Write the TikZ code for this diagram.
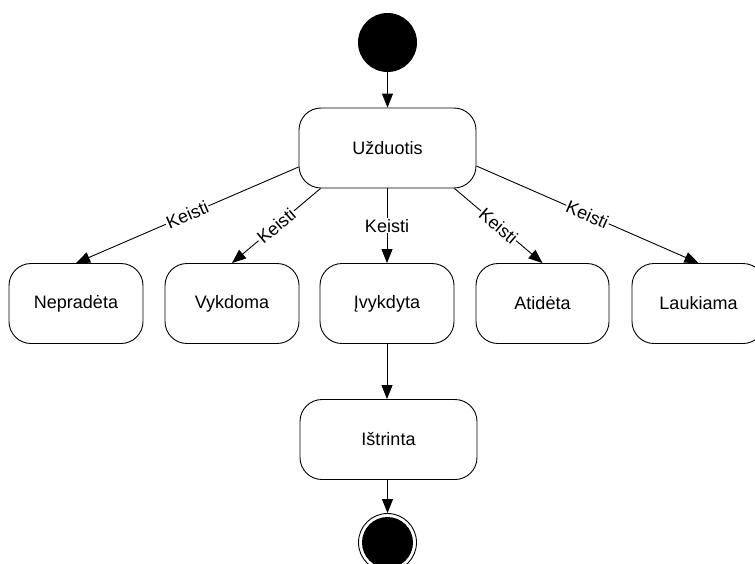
\documentclass[tikz,border=0pt]{standalone}
\usepackage{fontspec}
\setmainfont{Liberation Sans}
\usetikzlibrary{arrows.meta}
\begin{document}
\begin{tikzpicture}[x=1pt,y=-1pt,
  state/.style={draw, rounded corners=22pt, minimum height=80pt, minimum width=134pt,
    font=\fontsize{18}{22}\selectfont, line width=0.9pt},
  flow/.style={-{Triangle[length=14pt,width=11pt]}, line width=0.9pt},
  lbl/.style={fill=white, inner sep=1pt, font=\fontsize{18}{22}\selectfont}]
\useasboundingbox (0,0) rectangle (755,563);

% initial and final pseudo-states
\node[circle, fill=black, minimum size=59pt, inner sep=0pt] (start) at (387.5,42.5) {};
\node[circle, draw, minimum size=58pt, inner sep=0pt, line width=0.9pt] (end) at (387.5,542.5) {};
\fill (end.center) circle (25.5pt);

% states
\node[state, minimum width=177pt] (u) at (387.5,148) {Užduotis};
\node[state] (nep) at (76,303.5) {Nepradėta};
\node[state] (vyk) at (232,303.5) {Vykdoma};
\node[state] (ivy) at (387,303.5) {Įvykdyta};
\node[state, minimum width=133pt] (ati) at (542.5,303.5) {Atidėta};
\node[state, minimum width=133pt] (lau) at (698.5,303.5) {Laukiama};
\node[state, minimum width=177pt] (ist) at (388.5,439.5) {Ištrinta};

% transitions
\draw[flow] (start) -- (u);
\draw[flow] ([yshift=-19pt]u.west) -- node[lbl, sloped] {Keisti} (nep.north);
\draw[flow] ([xshift=22pt]u.south west) -- node[lbl, sloped] {Keisti} (vyk.north);
\draw[flow] (u.south -| ivy.north) -- node[lbl] {Keisti} (ivy.north);
\draw[flow] ([xshift=-22pt]u.south east) -- node[lbl, sloped] {Keisti} (ati.north);
\draw[flow] ([yshift=-18pt]u.east) -- node[lbl, sloped] {Keisti} (lau.north);
\draw[flow] (ivy.south) -- (ivy.south |- ist.north);
\draw[flow] (ist.south -| end.north) -- (end.north);
\end{tikzpicture}
\end{document}
